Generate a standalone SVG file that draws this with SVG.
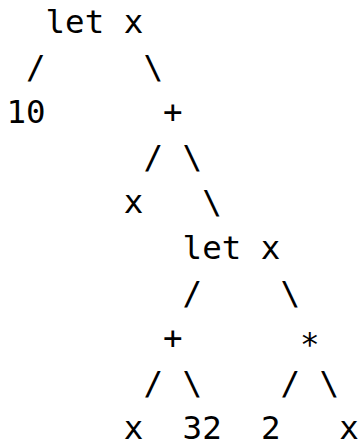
<svg xmlns="http://www.w3.org/2000/svg" width="361" height="441" viewBox="0 0 361 441">
<style>
text{font-family:"DejaVu Sans Mono",monospace;font-size:32.5px;fill:#000;white-space:pre}
</style>
<rect width="361" height="441" fill="#fff"/>
<g id="connectors">
<text x="25.98" y="78.1">/</text><text x="143.43" y="78.1">\</text>
<text x="143.43" y="168.3">/</text><text x="182.58" y="168.3">\</text>
<text x="202.15" y="213.4">\</text>
<text x="182.58" y="303.6">/</text><text x="280.45" y="303.6">\</text>
<text x="143.43" y="393.8">/</text><text x="182.58" y="393.8">\</text><text x="280.45" y="393.8">/</text><text x="319.6" y="393.8">\</text>
</g>
<g id="let1"><text x="45.55" y="33">let x</text></g>
<g id="n10"><text x="6.4" y="123.2">10</text></g>
<g id="plus1"><text x="163" y="123.2">+</text></g>
<g id="x1"><text x="123.85" y="213.4">x</text></g>
<g id="let2"><text x="182.58" y="258.5">let x</text></g>
<g id="plus2"><text x="163" y="348.7">+</text></g>
<g id="times"><text x="300.03" y="355">*</text></g>
<g id="x2"><text x="123.85" y="438.9">x</text></g>
<g id="n32"><text x="182.58" y="438.9">32</text></g>
<g id="n2"><text x="260.88" y="438.9">2</text></g>
<g id="x3"><text x="339.18" y="438.9">x</text></g>
</svg>
